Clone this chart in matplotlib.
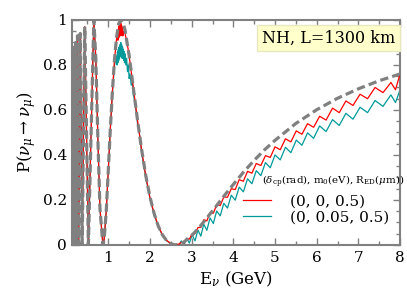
import matplotlib
matplotlib.use("Agg")
import matplotlib.pyplot as plt
from matplotlib.ticker import MultipleLocator, FuncFormatter

plt.rcParams['font.family'] = ['DejaVu Serif']
plt.rcParams['mathtext.fontset'] = 'dejavuserif'

# ---------------- data ----------------
# standard oscillation (grey dashed)
gray_E = [0.12, 0.1243, 0.1305, 0.1374, 0.145, 0.1535, 0.1631, 0.174, 0.1864, 0.2008,
          0.2175, 0.237, 0.261, 0.290, 0.326, 0.373, 0.435, 0.522, 0.6526, 0.70,
          0.75, 0.80, 0.87, 0.90, 0.95, 1.0, 1.05, 1.1, 1.15, 1.2,
          1.25, 1.305, 1.35, 1.4, 1.5, 1.6, 1.7, 1.8, 1.9, 2.0,
          2.1, 2.2, 2.3, 2.4, 2.5, 2.61, 2.7, 2.8, 3.0, 3.2,
          3.4, 3.6, 3.8, 4.0, 4.25, 4.5, 4.75, 5.0, 5.5, 6.0,
          6.5, 7.0, 7.5, 8.0]
gray_P = [0.40, 0.0, 0.85, 0.0, 0.86, 0.0, 0.87, 0.0, 0.88, 0.0,
          0.90, 0.0, 0.93, 0.0, 0.94, 0.0, 0.97, 0.0, 1.0, 0.83,
          0.469, 0.161, 0.0, 0.024, 0.149, 0.333, 0.521, 0.688, 0.828, 0.927,
          0.984, 1.0, 0.989, 0.956, 0.842, 0.698, 0.556, 0.423, 0.307, 0.213,
          0.139, 0.083, 0.044, 0.019, 0.005, 0.0, 0.003, 0.011, 0.041, 0.082,
          0.128, 0.175, 0.223, 0.269, 0.325, 0.376, 0.423, 0.465, 0.540, 0.601,
          0.652, 0.694, 0.730, 0.760]

# low-energy part where all curves coincide (points with E <= 1.0)
n_low = 25

# (0, 0, 0.5) red
red_E_hi = [1.05, 1.1, 1.15, 1.2, 1.22, 1.23, 1.24, 1.25, 1.26, 1.27,
            1.28, 1.29, 1.30, 1.31, 1.32, 1.33, 1.34, 1.35, 1.37, 1.40,
            1.45, 1.5, 1.6, 1.7, 1.8, 1.9, 2.0, 2.1, 2.2, 2.3,
            2.4, 2.5, 2.6, 2.7, 2.75, 2.815, 2.88, 2.945, 3.01, 3.08,
            3.15, 3.22, 3.29, 3.365, 3.44, 3.52, 3.60, 3.685, 3.77, 3.86,
            3.95, 4.045, 4.14, 4.24, 4.34, 4.445, 4.55, 4.66, 4.77, 4.885,
            5.00, 5.125, 5.25, 5.38, 5.51, 5.645, 5.78, 5.925, 6.07, 6.225,
            6.38, 6.54, 6.70, 6.87, 7.04, 7.22, 7.40, 7.59, 7.78, 7.89,
            8.0]
red_P_hi = [0.521, 0.688, 0.828, 0.92, 0.95, 0.91, 0.96, 0.92, 0.975, 0.93,
            0.98, 0.93, 0.985, 0.94, 0.975, 0.93, 0.965, 0.93, 0.95, 0.94,
            0.90, 0.84, 0.70, 0.555, 0.42, 0.305, 0.21, 0.14, 0.083, 0.045,
            0.02, 0.006, 0.0, 0.004, 0.012, 0.007, 0.028, 0.026, 0.049, 0.050,
            0.077, 0.078, 0.112, 0.107, 0.143, 0.141, 0.178, 0.175, 0.213, 0.212,
            0.250, 0.246, 0.290, 0.283, 0.327, 0.319, 0.362, 0.353, 0.397, 0.389,
            0.436, 0.423, 0.472, 0.458, 0.507, 0.492, 0.539, 0.523, 0.572, 0.555,
            0.608, 0.588, 0.640, 0.620, 0.670, 0.650, 0.700, 0.677, 0.722, 0.690,
            0.760]

# (0, 0.05, 0.5) teal
teal_E_hi = [1.05, 1.1, 1.15, 1.2, 1.21, 1.22, 1.23, 1.24, 1.25, 1.26,
             1.27, 1.28, 1.29, 1.30, 1.31, 1.32, 1.33, 1.34, 1.35, 1.36,
             1.37, 1.38, 1.39, 1.40, 1.42, 1.44, 1.46, 1.48, 1.50, 1.52,
             1.55, 1.58, 1.6, 1.65, 1.7, 1.75, 1.8, 1.9, 2.0, 2.1,
             2.2, 2.3, 2.4, 2.5, 2.6, 2.7, 2.75, 2.815, 2.88, 2.945,
             3.01, 3.08, 3.15, 3.22, 3.29, 3.365, 3.44, 3.52, 3.60, 3.685,
             3.77, 3.86, 3.95, 4.045, 4.14, 4.24, 4.34, 4.445, 4.55, 4.66,
             4.77, 4.885, 5.00, 5.125, 5.25, 5.38, 5.51, 5.645, 5.78, 5.925,
             6.07, 6.225, 6.38, 6.54, 6.70, 6.87, 7.04, 7.22, 7.40, 7.59,
             7.78, 7.89, 8.0]
teal_P_hi = [0.52, 0.68, 0.80, 0.84, 0.80, 0.86, 0.81, 0.87, 0.82, 0.88,
             0.83, 0.89, 0.84, 0.90, 0.84, 0.89, 0.83, 0.88, 0.83, 0.87,
             0.82, 0.86, 0.81, 0.85, 0.80, 0.83, 0.77, 0.80, 0.74, 0.76,
             0.71, 0.72, 0.67, 0.62, 0.54, 0.49, 0.41, 0.30, 0.205, 0.135,
             0.08, 0.042, 0.018, 0.006, 0.0, 0.0, 0.018, 0.0, 0.03, 0.008,
             0.045, 0.018, 0.066, 0.039, 0.092, 0.065, 0.120, 0.095, 0.151, 0.129,
             0.185, 0.164, 0.221, 0.199, 0.257, 0.236, 0.294, 0.272, 0.330, 0.308,
             0.366, 0.343, 0.400, 0.378, 0.434, 0.410, 0.466, 0.443, 0.498, 0.474,
             0.529, 0.504, 0.557, 0.531, 0.585, 0.559, 0.612, 0.588, 0.642, 0.616,
             0.667, 0.633, 0.69]

red_E = gray_E[:n_low + 1] + red_E_hi
red_P = gray_P[:n_low + 1] + red_P_hi
teal_E = gray_E[:n_low + 1] + teal_E_hi
teal_P = gray_P[:n_low + 1] + teal_P_hi

labels = ['(0, 0, 0.5)', '(0, 0.05, 0.5)']
legend_title = r'($\delta_{\rm cp}$(rad), m$_0$(eV), R$_{\rm ED}$($\mu$m))'
box_text = 'NH, L=1300 km'

# ---------------- figure ----------------
fig = plt.figure(figsize=(4.07, 2.94), dpi=100)
ax = fig.add_axes([0.176, 0.167, 0.807, 0.765])

spine_c = '#808080'
l_teal, = ax.plot(teal_E, teal_P, color='#009a9a', lw=0.9, zorder=2, label=labels[1])
l_red, = ax.plot(red_E, red_P, color='#ff0000', lw=0.9, zorder=3, label=labels[0])
ax.plot(gray_E, gray_P, color='#808080', lw=2.3, dashes=(2.6, 1.3), zorder=4)

ax.set_xlim(0.12, 8)
ax.set_ylim(0, 1)
ax.xaxis.set_major_locator(MultipleLocator(1))
ax.xaxis.set_minor_locator(MultipleLocator(0.5))
ax.yaxis.set_major_locator(MultipleLocator(0.2))
ax.yaxis.set_minor_locator(MultipleLocator(0.05))
ax.yaxis.set_major_formatter(FuncFormatter(lambda v, p: '%g' % round(v, 2)))

ax.tick_params(which='both', direction='in', top=True, right=True, color=spine_c,
               labelsize=11, width=1.0)
ax.tick_params(which='major', length=5)
ax.tick_params(which='minor', length=3)
ax.tick_params(axis='x', which='major', pad=4.5)
ax.tick_params(axis='y', which='major', pad=3.5)
for s in ax.spines.values():
    s.set_color(spine_c)
    s.set_linewidth(1.5)

ax.set_xlabel(r'E$_\nu$ (GeV)', fontsize=12, labelpad=3)
ax.set_ylabel(r'P($\nu_\mu \rightarrow \nu_\mu$)', fontsize=12, labelpad=3)

ax.text(0.986, 0.92, box_text, transform=ax.transAxes, ha='right', va='center',
        fontsize=11.5, zorder=6,
        bbox=dict(boxstyle='square,pad=0.3', facecolor='#ffffcc', edgecolor='#e8e8c0', lw=1))

ax.text(0.58, 0.28, legend_title, transform=ax.transAxes, ha='left', va='center',
        fontsize=7.4, zorder=7)
leg = ax.legend(handles=[l_red, l_teal], loc='upper left', bbox_to_anchor=(0.522, 0.225),
                frameon=False, fontsize=11, borderpad=0, borderaxespad=0,
                handlelength=1.85, handletextpad=1.2, labelspacing=0.15)
leg.set_zorder(7)

fig.savefig('out.png', dpi=100)
